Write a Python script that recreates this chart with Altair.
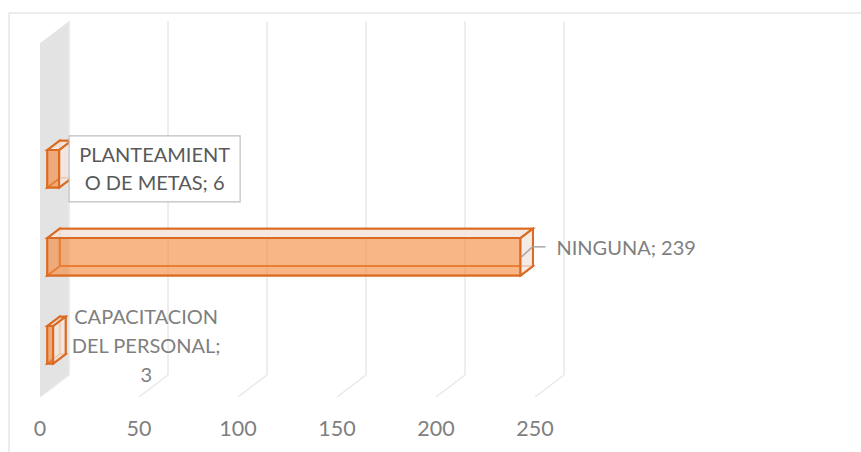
import altair as alt
import pandas as pd

# ---- data -----------------------------------------------------------------
CATEGORIES = ["PLANTEAMIENTO DE METAS", "NINGUNA", "CAPACITACION DEL PERSONAL"]
VALUES = [6, 239, 3]
TICKS = [0, 50, 100, 150, 200, 250]
# character positions where each data label wraps onto a new line
LABEL_BREAKS = [[12], [], [12, 26]]

# ---- 3-D box geometry (x in value units, y in row units) ------------------
DX, DY = 14.65, 0.25      # full depth of the plot box
Z0, Z1 = 0.25, 0.68       # depth span taken by the bars
HALF = 0.213              # half of a bar's thickness
FIRST_ROW = 2.53          # centre of the first bar above the floor
WALL_TOP = 4.02

FACE = "#F3893C"
EDGE = "#DB6B22"
PALE = "#F3E6DE"
FONT = "Lato"
FS = 20

xs = alt.Scale(domain=[0, 250], nice=False, zero=False)
ys = alt.Scale(domain=[0, 4], nice=False, zero=False)


def X(field):
    return alt.X(f"{field}:Q", scale=xs, axis=None)


def Y(field):
    return alt.Y(f"{field}:Q", scale=ys, axis=None)


bars = pd.DataFrame({"name": CATEGORIES, "val": VALUES})
bars["c"] = [FIRST_ROW - i for i in range(len(bars))]


def rect_face(z):
    return pd.DataFrame({
        "name": bars["name"],
        "x": z * DX,
        "x2": bars["val"] + z * DX,
        "y": bars["c"] - HALF + z * DY,
        "y2": bars["c"] + HALF + z * DY,
    })


def horizontal_faces(side):
    rows = []
    for name, val, c in zip(bars["name"], bars["val"], bars["c"]):
        h = c + side * HALF
        for z in (Z0, Z1):
            rows.append({"key": name, "y": h + z * DY, "x": z * DX, "x2": val + z * DX})
    return pd.DataFrame(rows)


def vertical_faces(at_end):
    rows = []
    for name, val, c in zip(bars["name"], bars["val"], bars["c"]):
        base = val if at_end else 0
        for z in (Z0, Z1):
            rows.append({"key": name, "x": base + z * DX,
                         "y": c - HALF + z * DY, "y2": c + HALF + z * DY})
    return pd.DataFrame(rows)


# ---- box: frame, side wall, gridlines, tick labels --------------------------
frame = alt.Chart(pd.DataFrame({"k": [0]})).mark_rect(
    filled=False, stroke="#D9D9D9", strokeWidth=1
).encode(x=alt.value(-31), x2=alt.value(830), y=alt.value(-32), y2=alt.value(420))

wall = alt.Chart(pd.DataFrame({
    "x": [0, DX], "y": [0, DY], "y2": [WALL_TOP, WALL_TOP + DY]
})).mark_area(color="#E3E3E3", orient="vertical").encode(
    x=X("x"), y=Y("y"), y2="y2"
)

grid_df = pd.DataFrame({"t": TICKS})
grid_df["tb"] = grid_df["t"] + DX
grid_df["y0"] = 0.0
grid_df["yb"] = DY
grid_df["ytop"] = WALL_TOP + DY
grid_df["label"] = grid_df["t"].astype(str)

floor_lines = alt.Chart(grid_df).mark_rule(color="#E8E8E8", strokeWidth=1.5).encode(
    x=X("t"), x2="tb", y=Y("y0"), y2="yb"
)
back_lines = alt.Chart(grid_df).mark_rule(color="#E8E8E8", strokeWidth=1.5).encode(
    x=X("tb"), y=Y("yb"), y2="ytop"
)
tick_labels = alt.Chart(grid_df).mark_text(
    dy=33, align="center", baseline="middle", font=FONT, fontSize=21.5, color="#7F7F7F"
).encode(x=X("t"), y=Y("y0"), text="label:N")

# ---- bars: hidden faces first, then the visible ones ------------------------
back = alt.Chart(rect_face(Z1)).mark_rect(
    filled=False, stroke=EDGE, strokeWidth=1.8
).encode(x=X("x"), x2="x2", y=Y("y"), y2="y2")

bottom = alt.Chart(horizontal_faces(-1)).mark_area(
    orient="horizontal", fillOpacity=0, stroke=EDGE, strokeWidth=1.8
).encode(x=X("x"), x2="x2", y=Y("y"), detail="key:N")

left = alt.Chart(vertical_faces(False)).mark_area(
    orient="vertical", fillOpacity=0, stroke=EDGE, strokeWidth=1.8
).encode(x=X("x"), y=Y("y"), y2="y2", detail="key:N")

front = alt.Chart(rect_face(Z0)).mark_rect(
    fill=FACE, fillOpacity=0.62, stroke=EDGE, strokeWidth=2
).encode(x=X("x"), x2="x2", y=Y("y"), y2="y2")

top = alt.Chart(horizontal_faces(1)).mark_area(
    orient="horizontal", fill=PALE, fillOpacity=0.9, stroke=EDGE, strokeWidth=2
).encode(x=X("x"), x2="x2", y=Y("y"), detail="key:N")

right = alt.Chart(vertical_faces(True)).mark_area(
    orient="vertical", fill=PALE, fillOpacity=0.8, stroke=EDGE, strokeWidth=2
).encode(x=X("x"), y=Y("y"), y2="y2", detail="key:N")

# ---- data labels -------------------------------------------------------------


def wrap(text, breaks):
    parts, start = [], 0
    for b in breaks + [len(text)]:
        parts.append(text[start:b].strip())
        start = b
    return "\n".join(parts)


labels = pd.DataFrame({
    "name": CATEGORIES,
    "text": [wrap(f"{c}; {v}", br) for c, v, br in zip(CATEGORIES, VALUES, LABEL_BREAKS)],
    "ax": [v + Z0 * DX for v in VALUES],
    "cy": [FIRST_ROW - i + Z0 * DY for i in range(len(VALUES))],
})


def lab(i):
    return alt.Chart(labels).transform_filter(alt.datum.name == CATEGORIES[i])


box = lab(0).mark_rect(
    fill="white", stroke="#BFBFBF", strokeWidth=1.2,
    xOffset=10, x2Offset=181, yOffset=-33, y2Offset=33
).encode(x=X("ax"), x2="ax", y=Y("cy"), y2="cy")
box_text = lab(0).mark_text(
    dx=95.5, dy=-13, align="center", baseline="middle", lineBreak="\n", lineHeight=28,
    font=FONT, fontSize=FS, color="#595959"
).encode(x=X("ax"), y=Y("cy"), text="text:N")

leader1 = lab(1).mark_rule(
    color="#A6A6A6", strokeWidth=1.5, xOffset=1, x2Offset=12, y2Offset=-10
).encode(x=X("ax"), x2="ax", y=Y("cy"), y2="cy")
leader2 = lab(1).mark_rule(
    color="#A6A6A6", strokeWidth=1.5, xOffset=12, x2Offset=25, yOffset=-10, y2Offset=-10
).encode(x=X("ax"), x2="ax", y=Y("cy"), y2="cy")
mid_text = lab(1).mark_text(
    dx=36, dy=-8, align="left", baseline="middle",
    font=FONT, fontSize=FS, color="#7F7F7F"
).encode(x=X("ax"), y=Y("cy"), text="text:N")

low_text = lab(2).mark_text(
    dx=93, dy=-27, align="center", baseline="middle", lineBreak="\n", lineHeight=29,
    font=FONT, fontSize=FS, color="#7F7F7F"
).encode(x=X("ax"), y=Y("cy"), text="text:N")

chart = alt.layer(
    frame, wall, floor_lines, back_lines, tick_labels,
    back, bottom, left, front, top, right,
    box, box_text, leader1, leader2, mid_text, low_text,
).properties(
    width=495, height=352,
    padding={"left": 40, "top": 45, "right": 326, "bottom": 55},
    autosize="none", background="white",
).configure_view(stroke=None)

chart.save("out.html", embed_options={"renderer": "svg", "actions": False})
